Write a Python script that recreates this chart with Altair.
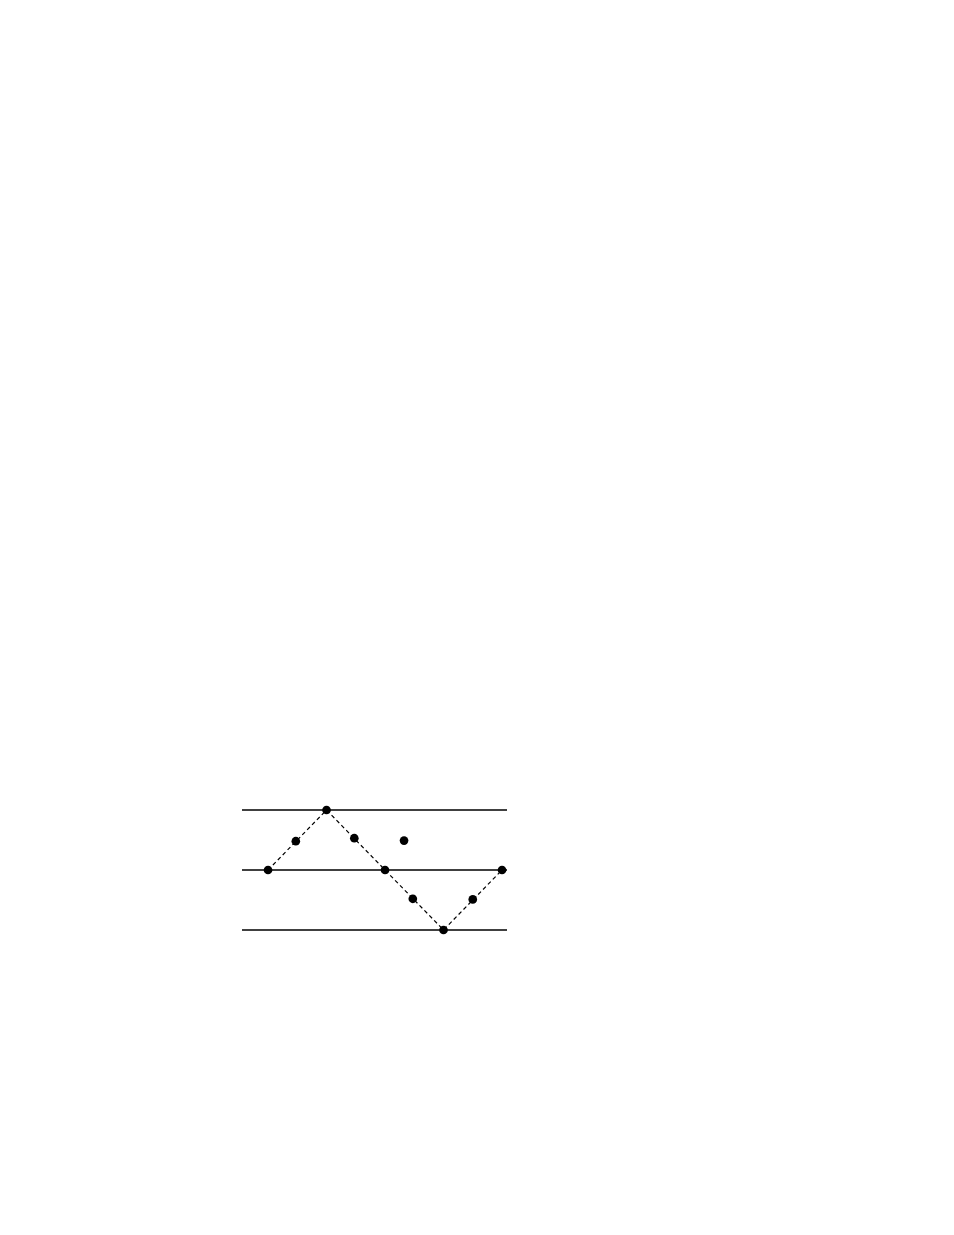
import altair as alt
import pandas as pd

# reference lines
levels = [-1, 0, 1]
# dashed path vertices
path_x = [0, 2, 4, 6, 8]
path_y = [0, 1, 0, -1, 0]
# dots
dot_x = [0, 0.95, 2, 2.95, 4.65, 4, 4.95, 6, 7, 8]
dot_y = [0, 0.48, 1, 0.53, 0.49, 0, -0.48, -1, -0.49, 0]

xs = alt.Scale(domain=[-0.89, 8.17], nice=False, zero=False)
ys = alt.Scale(domain=[-1.1667, 1.1667], nice=False, zero=False)

rules = alt.Chart(pd.DataFrame({"y": levels})).mark_rule(color="black", strokeWidth=1.5).encode(
    y=alt.Y("y:Q", scale=ys, axis=None)
)
line = alt.Chart(pd.DataFrame({"x": path_x, "y": path_y})).mark_line(
    color="black", strokeWidth=1.2, strokeDash=[4, 3]
).encode(
    x=alt.X("x:Q", scale=xs, axis=None),
    y=alt.Y("y:Q", scale=ys, axis=None),
)
dots = alt.Chart(pd.DataFrame({"x": dot_x, "y": dot_y})).mark_circle(
    color="black", opacity=1, size=75
).encode(
    x=alt.X("x:Q", scale=xs, axis=None),
    y=alt.Y("y:Q", scale=ys, axis=None),
)

chart = (rules + line + dots).properties(
    width=265, height=140, background="white",
    padding={"left": 233, "top": 792, "right": 10, "bottom": 10},
).configure_view(strokeWidth=0)

chart.save("out.html", embed_options={"renderer": "svg", "actions": False})
